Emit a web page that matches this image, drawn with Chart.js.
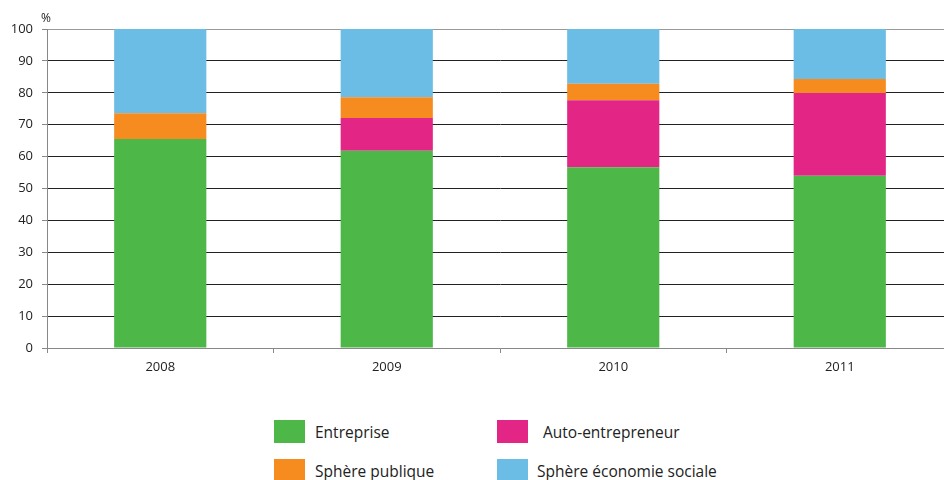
<!DOCTYPE html>
<html lang="fr">
<head>
<meta charset="utf-8">
<title>Répartition par secteur</title>
<script src="https://cdn.jsdelivr.net/npm/chart.js@4/dist/chart.umd.min.js"></script>
<style>
    html, body { margin: 0; padding: 0; background: #fff; overflow: hidden; }
    #wrap { position: relative; width: 944px; height: 480px; overflow: hidden; }
    #chart-box { position: absolute; left: 0; top: 0; width: 953px; height: 390px; }
    .legend-item { position: absolute; display: flex; align-items: center;
        font-family: "Open Sans", sans-serif; font-size: 15.5px; color: #222; }
    .legend-item .swatch { width: 31px; height: 23px; margin-right: 10px; }
</style>
</head>
<body>
<div id="wrap">
    <div id="chart-box"><canvas id="secteurChart" width="953" height="390"></canvas></div>
    <div id="legend"></div>
</div>
<script>
// ─── DONNÉES ──────────────────────────────────────────────────
const annees = ['2008', '2009', '2010', '2011'];
const entreprise = [65.5, 61.8, 56.7, 54.0];
const autoEntrepreneur = [0, 10.3, 21.0, 25.9];
const spherePublique = [8.1, 6.5, 5.1, 4.4];
const economieSociale = [26.4, 21.4, 17.2, 15.7];
const yTicks = [0, 10, 20, 30, 40, 50, 60, 70, 80, 90, 100];

const series = [
    { label: 'Entreprise', data: entreprise, color: '#4db848' },
    { label: 'Auto-entrepreneur', data: autoEntrepreneur, color: '#e32686' },
    { label: 'Sphère publique', data: spherePublique, color: '#f68b1f' },
    { label: 'Sphère économie sociale', data: economieSociale, color: '#6bbde5' }
];

// ─── LÉGENDE (2 x 2) ──────────────────────────────────────────
const legendPos = [
    { left: 274, top: 420, gap: 10 },
    { left: 497, top: 420, gap: 15 },
    { left: 274, top: 459, gap: 10 },
    { left: 497, top: 459, gap: 9 }
];
const legendEl = document.getElementById('legend');
series.forEach((s, i) => {
    const item = document.createElement('div');
    item.className = 'legend-item';
    item.style.left = legendPos[i].left + 'px';
    item.style.top = legendPos[i].top + 'px';
    item.innerHTML = `<span class="swatch" style="background:${s.color};margin-right:${legendPos[i].gap}px"></span><span>${s.label}</span>`;
    legendEl.appendChild(item);
});

// Petit "%" au-dessus de l'axe vertical
const percentLabel = {
    id: 'percentLabel',
    afterDraw(chart) {
        const ctx = chart.ctx;
        ctx.save();
        ctx.font = '12px "Open Sans", sans-serif';
        ctx.fillStyle = '#222';
        ctx.textAlign = 'center';
        ctx.textBaseline = 'bottom';
        ctx.fillText('%', chart.chartArea.left - 1, chart.chartArea.top - 4);
        ctx.restore();
    }
};

const tickFont = { family: '"Open Sans", sans-serif', size: 13 };

new Chart(document.getElementById('secteurChart').getContext('2d'), {
    type: 'bar',
    data: {
        labels: annees,
        datasets: series.map(s => ({
            label: s.label,
            data: s.data,
            backgroundColor: s.color,
            borderWidth: 0,
            barPercentage: 0.407,
            categoryPercentage: 1
        }))
    },
    options: {
        responsive: false,
        animation: false,
        layout: { padding: { top: 29, left: 0, right: 0, bottom: 0 } },
        plugins: { legend: { display: false }, tooltip: { enabled: false } },
        scales: {
            x: {
                stacked: true,
                afterFit: (scale) => { scale.height = 42; },
                grid: { offset: true, drawOnChartArea: false, tickLength: 5, color: '#888' },
                border: { color: '#888', width: 1 },
                ticks: { font: tickFont, color: '#222', padding: 6 }
            },
            y: {
                stacked: true,
                min: 0,
                max: 100,
                afterFit: (scale) => { scale.width = 47; },
                afterBuildTicks: (scale) => { scale.ticks = yTicks.map(v => ({ value: v })); },
                grid: {
                    tickLength: 5,
                    tickColor: '#888',
                    color: (c) => (c.tick && (c.tick.value === 0 || c.tick.value === 100)) ? '#999' : '#222'
                },
                border: { color: '#888', width: 1 },
                ticks: { font: tickFont, color: '#222', padding: 9 }
            }
        }
    },
    plugins: [percentLabel]
});
</script>
</body>
</html>
